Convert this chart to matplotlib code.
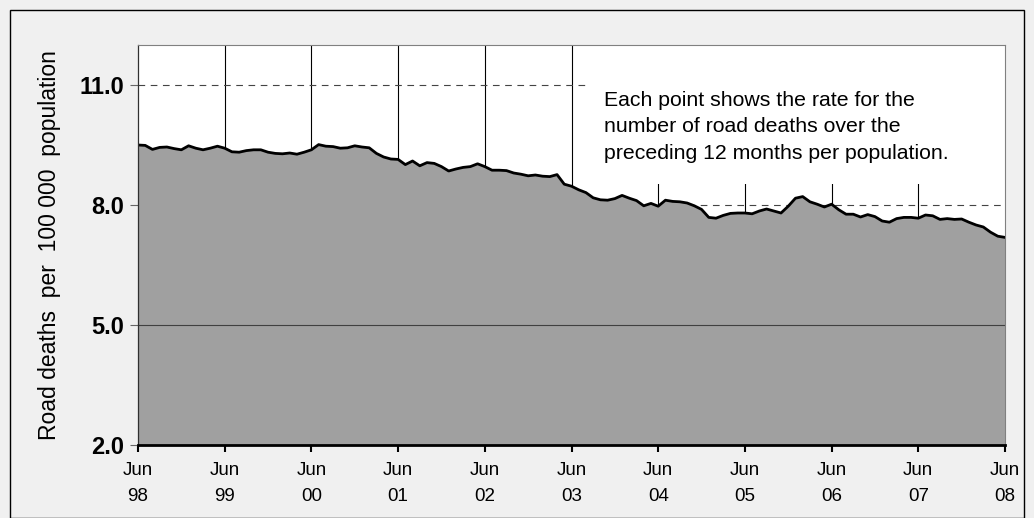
import matplotlib
matplotlib.use("Agg")
import matplotlib.pyplot as plt
from matplotlib.patches import Rectangle
import numpy as np

plt.rcParams['font.family'] = ['Liberation Sans', 'DejaVu Sans']

# Monthly rate (12-month rolling), Jun 1998 .. Jun 2008
rates = [
    9.50, 9.49, 9.39, 9.44, 9.45, 9.41, 9.38, 9.48, 9.42, 9.38, 9.42, 9.47,
    9.42, 9.33, 9.32, 9.36, 9.38, 9.38, 9.32, 9.29, 9.28, 9.30, 9.27, 9.32,
    9.38, 9.51, 9.47, 9.46, 9.42, 9.43, 9.48, 9.45, 9.43, 9.29, 9.20, 9.15,
    9.14, 9.01, 9.10, 8.98, 9.06, 9.04, 8.96, 8.85, 8.90, 8.94, 8.96, 9.03,
    8.96, 8.87, 8.87, 8.86, 8.80, 8.77, 8.73, 8.75, 8.72, 8.71, 8.76, 8.52,
    8.47, 8.38, 8.31, 8.18, 8.13, 8.12, 8.16, 8.24, 8.17, 8.11, 7.98, 8.04,
    7.97, 8.12, 8.09, 8.08, 8.05, 7.98, 7.89, 7.69, 7.67, 7.74, 7.79, 7.80,
    7.80, 7.78, 7.85, 7.90, 7.85, 7.80, 7.97, 8.17, 8.21, 8.08, 8.02, 7.95,
    8.02, 7.88, 7.77, 7.77, 7.70, 7.76, 7.71, 7.60, 7.57, 7.66, 7.69, 7.69,
    7.67, 7.75, 7.73, 7.64, 7.66, 7.64, 7.65, 7.57, 7.50, 7.45, 7.32, 7.22,
    7.19,
]
tick_labels = ["Jun\n98", "Jun\n99", "Jun\n00", "Jun\n01", "Jun\n02", "Jun\n03",
               "Jun\n04", "Jun\n05", "Jun\n06", "Jun\n07", "Jun\n08"]
y_ticks = [2.0, 5.0, 8.0, 11.0]
annotation = ("Each point shows the rate for the\n"
              "number of road deaths over the\n"
              "preceding 12 months per population.")
y_label = "Road deaths  per  100 000  population"

months = np.arange(len(rates))
x_ticks = months[::12]

fig = plt.figure(figsize=(10.34, 5.18), dpi=100)
fig.patch.set_facecolor('#f0f0f0')
fig.patches.append(Rectangle((10 / 1034, 0), 1014 / 1034, 1 - 10 / 518,
                             transform=fig.transFigure, fill=False,
                             edgecolor='black', linewidth=1.0))

ax = fig.add_axes([138 / 1034, 1 - 445 / 518, (1005 - 138) / 1034, 400 / 518])
ax.set_facecolor('white')
ax.set_xlim(0, len(rates) - 1)
ax.set_ylim(2.0, 12.0)

# grid behind area
for xt in x_ticks[1:-1]:
    ax.axvline(xt, color='black', linewidth=0.8, zorder=1)
for yv in [8.0, 11.0]:
    ax.axhline(yv, color='#444444', linewidth=0.8, linestyle=(0, (6, 5)), zorder=1)

ax.fill_between(months, 2.0, rates, color='#a0a0a0', zorder=2, linewidth=0)
ax.plot(months, rates, color='black', linewidth=2.0, zorder=3, solid_joinstyle='round')
ax.axhline(5.0, color='#404040', linewidth=0.8, zorder=4)

# white box behind the note (hides the grid there)
ax.add_patch(Rectangle((590 / 1034, 1 - 184 / 518), (1004 - 590) / 1034, 138 / 518,
                       transform=fig.transFigure, facecolor='white',
                       edgecolor='none', zorder=1.5))

ax.set_xticks(x_ticks)
ax.set_xticklabels(tick_labels, fontsize=13.5, linespacing=1.75)
ax.set_yticks(y_ticks)
ax.set_yticklabels([f"{v:.1f}" for v in y_ticks], fontsize=17, fontweight='bold')
ax.tick_params(axis='x', direction='out', length=5, width=1.5, pad=7, colors='black')
ax.tick_params(axis='y', direction='out', length=6, width=0.8, pad=4, color='#666666')

for side in ['top', 'right']:
    ax.spines[side].set_color('#808080')
    ax.spines[side].set_linewidth(0.8)
ax.spines['left'].set_color('#303030')
ax.spines['left'].set_linewidth(0.9)
ax.spines['bottom'].set_color('black')
ax.spines['bottom'].set_linewidth(2.0)
for s in ax.spines.values():
    s.set_zorder(5)

ax.set_ylabel(y_label, fontsize=16.5, labelpad=13)

ax.text(0.538, 0.885, annotation, transform=ax.transAxes, fontsize=15.3,
        va='top', ha='left', linespacing=1.5, zorder=6)

fig.savefig('out.png', dpi=100, facecolor=fig.get_facecolor())
